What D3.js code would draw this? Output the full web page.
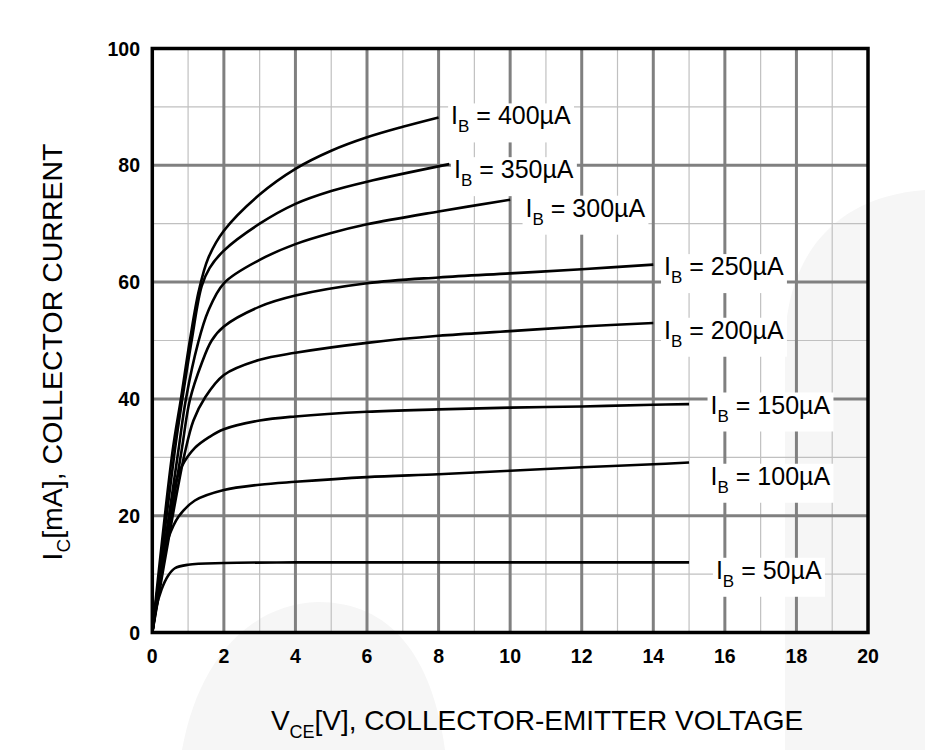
<!DOCTYPE html>
<html><head><meta charset="utf-8">
<script src="https://cdn.jsdelivr.net/npm/d3@7"></script>
<style>html,body{margin:0;padding:0;background:#fff;}svg{display:block;font-family:Arial,"Liberation Sans",sans-serif;}</style>
</head><body>
<script>
// ---- data ----
const xTicks = [0,2,4,6,8,10,12,14,16,18,20];
const yTicks = [0,20,40,60,80,100];
const ibLabels = ["400","350","300","250","200","150","100","50"];
const ib400 = [[0,0],[0.57,31.2],[0.8,40],[1.05,50],[1.3,58.5],[1.57,64.2],[2,68.8],[3,75.0],[4,79.4],[5,82.5],[6,84.8],[7,86.6],[8,88.2]];
const ib350 = [[0,0],[0.63,31.2],[0.84,40],[1.1,50],[1.38,59.3],[1.6,62.4],[2,65.4],[3,70.0],[4,73.4],[5,75.6],[6,77.2],[8.3,80.2]];
const ib300 = [[0,0],[0.73,31.2],[0.94,40],[1.28,49.6],[1.56,55.0],[2,59.8],[3,63.8],[4,66.5],[5,68.4],[6,69.9],[8,72.1],[10,74.1]];
const ib250 = [[0,0],[0.82,31.2],[1.05,39.8],[1.38,46.1],[1.66,50],[2,52.4],[3,55.8],[4,57.7],[6,59.8],[8,60.8],[10,61.5],[12,62.2],[14,63.0]];
const ib200 = [[0,0],[0.6,21],[0.9,30.5],[1.15,36.3],[1.47,40.2],[2,44.1],[3,46.7],[4,47.9],[6,49.6],[8,50.8],[10,51.6],[12,52.4],[14,53.0]];
const ib150 = [[0,0],[0.2,9],[0.4,17],[0.63,25.2],[0.82,28.4],[1.19,31.6],[1.6,33.5],[2,34.8],[3,36.3],[4,37.0],[6,37.8],[8,38.2],[10,38.5],[12,38.7],[14,39.0],[15,39.1]];
const ib100 = [[0,0],[0.12,6],[0.26,12],[0.45,16.2],[0.73,19.8],[1.19,22.6],[2,24.4],[3,25.3],[4,25.8],[6,26.6],[8,27.1],[10,27.7],[12,28.3],[14,28.8],[15,29.1]];
const ib50 = [[0,0],[0.1,4],[0.26,7.4],[0.45,9.8],[0.63,11.0],[1,11.6],[2,11.9],[4,12.0],[8,12.0],[15,12.0]];
const seriesList = [ib400, ib350, ib300, ib250, ib200, ib150, ib100, ib50];
// label anchor (VCE, IC) for each curve label
const labelPos = [[8.35,87],[8.43,77.8],[10.43,71.2],[14.3,61.2],[14.3,50.3],[15.6,37.5],[15.6,25.3],[15.75,9.2]];

// ---- layout ----
const W = 925, H = 750;
const svg = d3.select("body").append("svg").attr("width", W).attr("height", H);
const x = d3.scaleLinear().domain([0,20]).range([152.3, 868]);
const y = d3.scaleLinear().domain([0,100]).range([632.5, 48.5]);

// faint watermark
const wm = svg.append("g").attr("fill", "#f6f6f6");
wm.append("path").attr("d", "M785,750 L785,340 C788,250 840,196 925,190 L925,750 Z");
wm.append("path").attr("d", "M182,750 C198,660 250,604 318,602 C390,602 432,655 445,750 Z");

// grid
const g = svg.append("g");
const minorX = d3.range(1,20,2), minorY = d3.range(10,100,20);
g.selectAll(".mx").data(minorX).join("line")
  .attr("x1", d=>x(d)).attr("x2", d=>x(d)).attr("y1", y(0)).attr("y2", y(100))
  .attr("stroke", "#c0c0c0").attr("stroke-width", 1.2);
g.selectAll(".my").data(minorY).join("line")
  .attr("y1", d=>y(d)).attr("y2", d=>y(d)).attr("x1", x(0)).attr("x2", x(20))
  .attr("stroke", "#c0c0c0").attr("stroke-width", 1.2);
g.selectAll(".Mx").data(xTicks.slice(1,-1)).join("line")
  .attr("x1", d=>x(d)).attr("x2", d=>x(d)).attr("y1", y(0)).attr("y2", y(100))
  .attr("stroke", "#808080").attr("stroke-width", 3);
g.selectAll(".My").data(yTicks.slice(1,-1)).join("line")
  .attr("y1", d=>y(d)).attr("y2", d=>y(d)).attr("x1", x(0)).attr("x2", x(20))
  .attr("stroke", "#808080").attr("stroke-width", 3);

// curves
const line = d3.line().x(d=>x(d[0])).y(d=>y(d[1])).curve(d3.curveCatmullRom.alpha(0.5));
svg.append("g").selectAll("path").data(seriesList).join("path")
  .attr("d", line).attr("fill", "none").attr("stroke", "#000").attr("stroke-width", 2.6)
  .attr("stroke-linejoin", "round");

// frame
svg.append("rect").attr("x", x(0)).attr("y", y(100)).attr("width", x(20)-x(0)).attr("height", y(0)-y(100))
  .attr("fill", "none").attr("stroke", "#000").attr("stroke-width", 3.5);

// curve labels
const lg = svg.append("g");
ibLabels.forEach((lab, i) => {
  const gg = lg.append("g");
  const rect = gg.append("rect").attr("fill", "#fff");
  const t = gg.append("text").attr("x", x(labelPos[i][0])).attr("y", y(labelPos[i][1]))
    .attr("font-size", 25).attr("fill", "#000");
  t.append("tspan").text("I");
  t.append("tspan").attr("dy", 8).attr("font-size", 17).text("B");
  t.append("tspan").attr("dy", -8).text(" = " + lab + "\u00b5A");
  const bb = t.node().getBBox();
  rect.attr("x", bb.x - 3).attr("y", bb.y + 2).attr("width", bb.width + 6).attr("height", bb.height + 4);
});

// tick labels
svg.append("g").selectAll("text").data(yTicks).join("text")
  .attr("x", 140).attr("y", d=>y(d)).attr("dy", "0.36em").attr("text-anchor", "end")
  .attr("font-size", 19.5).attr("font-weight", "bold").text(d=>d);
svg.append("g").selectAll("text").data(xTicks).join("text")
  .attr("x", d=>x(d)).attr("y", 663).attr("text-anchor", "middle")
  .attr("font-size", 19.5).attr("font-weight", "bold").text(d=>d);

// axis titles
const xt = svg.append("text").attr("x", 537).attr("y", 730).attr("text-anchor", "middle").attr("font-size", 28);
xt.append("tspan").text("V");
xt.append("tspan").attr("dy", 8).attr("font-size", 18).text("CE");
xt.append("tspan").attr("dy", -8).text("[V], COLLECTOR-EMITTER VOLTAGE");

const yt = svg.append("text").attr("transform", "translate(62,352) rotate(-90)").attr("text-anchor", "middle").attr("font-size", 28.5);
yt.append("tspan").text("I");
yt.append("tspan").attr("dy", 8).attr("font-size", 19).text("C");
yt.append("tspan").attr("dy", -8).text("[mA], COLLECTOR CURRENT");
</script>
</body></html>
